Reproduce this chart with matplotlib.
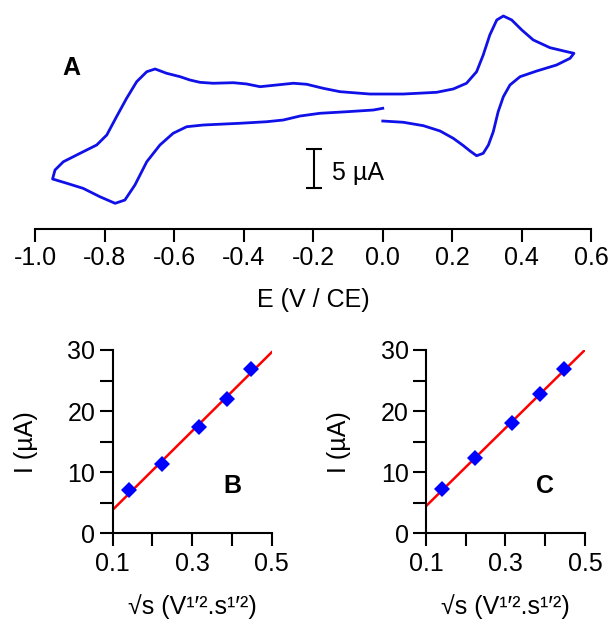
import numpy as np
import matplotlib.pyplot as plt
from matplotlib.ticker import MultipleLocator

plt.rcParams['font.family'] = ['Liberation Sans', 'DejaVu Sans']

# Cyclic voltammogram (E in V vs CE, I in uA, arbitrary offset)
E_cv = [0.000, 0.059, 0.117, 0.165, 0.203, 0.232, 0.251, 0.270, 0.289, 0.304,
        0.318, 0.332, 0.347, 0.366, 0.395, 0.443, 0.500, 0.539, 0.550, 0.529,
        0.481, 0.433, 0.400, 0.371, 0.347, 0.328, 0.308, 0.289, 0.270, 0.241,
        0.203, 0.155, 0.059, -0.037, -0.123, -0.171, -0.219, -0.257, -0.305,
        -0.353, -0.392, -0.430, -0.488, -0.526, -0.555, -0.583, -0.622, -0.655,
        -0.679, -0.708, -0.737, -0.766, -0.794, -0.823, -0.871, -0.919, -0.943,
        -0.950, -0.909, -0.862, -0.814, -0.770, -0.742, -0.713, -0.679, -0.641,
        -0.603, -0.564, -0.516, -0.411, -0.334, -0.286, -0.238, -0.181, -0.104,
        -0.027, 0.000]
I_cv = [-0.90, -1.06, -1.50, -2.18, -3.12, -4.06, -4.74, -5.35, -5.04, -3.97,
        -2.27, 0.29, 2.22, 3.72, 4.78, 5.51, 6.28, 7.14, 7.78, 7.99,
        8.50, 9.49, 10.77, 12.05, 12.56, 12.05, 10.13, 7.56, 5.42, 3.94,
        3.21, 2.78, 2.56, 2.56, 2.86, 3.29, 3.81, 3.94, 3.72,
        3.50, 3.85, 4.01, 3.94, 4.06, 4.36, 4.78, 5.22, 5.77,
        5.42, 4.14, 2.01, -0.35, -2.69, -3.97, -5.04, -6.12, -7.18,
        -8.33, -8.88, -9.53, -10.60, -11.45, -11.03, -9.10, -6.12, -3.97,
        -2.47, -1.63, -1.41, -1.19, -0.99, -0.77, -0.26, 0.09, 0.29,
        0.51, 0.73]

# Peak current vs square root of scan rate
sqrt_v = [0.141, 0.224, 0.316, 0.387, 0.447]
I_B = [7.09, 11.29, 17.45, 21.98, 26.84]
I_C = [7.25, 12.27, 18.00, 22.75, 26.84]

blue = '#1010e8'
fs = 18

fig = plt.figure(figsize=(6.13, 6.21), dpi=100)

# ---- panel A
axA = fig.add_axes([0.0574, 0.632, 0.9072, 0.3519])
axA.plot(E_cv, I_cv, color=blue, lw=2.0, solid_joinstyle='round')
axA.set_xlim(-1.0, 0.6)
axA.set_ylim(-14.68, 13.33)
for s in ['left', 'right', 'top']:
    axA.spines[s].set_visible(False)
axA.spines['bottom'].set_linewidth(1.5)
axA.set_yticks([])
axA.set_xticks(np.arange(-1.0, 0.61, 0.2))
axA.set_xticklabels(['-1.0', '-0.8', '-0.6', '-0.4', '-0.2', '0.0', '0.2', '0.4', '0.6'])
axA.tick_params(axis='x', direction='out', length=9.5, width=1.5, pad=3, labelsize=fs)
axA.set_xlabel('E (V / CE)', fontsize=fs)
axA.xaxis.set_label_coords(0.5, -0.327)
axA.xaxis.label.set_va('center')
axA.errorbar([-0.198], [-6.99], yerr=[2.5], color='black', lw=1.5,
             capsize=5.5, capthick=1.5)
axA.text(-0.147, -7.56, '5 µA', fontsize=fs, ha='left', va='center')
axA.text(-0.896, 5.9, 'A', fontsize=18, fontweight='bold', ha='center', va='center')


def rate_panel(rect, y, tag, ylabel_x):
    ax = fig.add_axes(rect)
    slope, icpt = np.polyfit(sqrt_v, y, 1)
    xs = np.array([0.1, 0.5])
    ax.plot(xs, slope * xs + icpt, color='red', lw=1.8, zorder=2)
    ax.plot(sqrt_v, y, 'D', color='#0000ff', ms=8, mew=0, zorder=3)
    ax.set_xlim(0.1, 0.5)
    ax.set_ylim(0, 30)
    for s in ['right', 'top']:
        ax.spines[s].set_visible(False)
    for s in ['left', 'bottom']:
        ax.spines[s].set_linewidth(1.5)
    ax.set_xticks([0.1, 0.3, 0.5])
    ax.set_xticklabels(['0.1', '0.3', '0.5'])
    ax.xaxis.set_minor_locator(MultipleLocator(0.1))
    ax.set_yticks([0, 10, 20, 30])
    ax.yaxis.set_minor_locator(MultipleLocator(5))
    ax.tick_params(which='both', direction='out', length=9.5, width=1.5, labelsize=fs)
    ax.tick_params(axis='x', pad=4)
    ax.tick_params(axis='y', pad=3)
    ax.set_xlabel('√s (V¹′².s¹′²)', fontsize=fs)
    ax.xaxis.set_label_coords(0.5, -0.40)
    ax.xaxis.label.set_va('center')
    ax.set_ylabel('I (µA)', fontsize=fs)
    ax.yaxis.set_label_coords(ylabel_x, 0.5)
    ax.yaxis.label.set_va('center')
    ax.text(0.40, 7.75, tag, fontsize=18, fontweight='bold', ha='center', va='center')
    return ax


rate_panel([0.1838, 0.1412, 0.2594, 0.2952], I_B, 'B', -0.545)
rate_panel([0.6949, 0.1412, 0.2594, 0.2952], I_C, 'C', -0.547)

fig.savefig('out.png', dpi=100)
